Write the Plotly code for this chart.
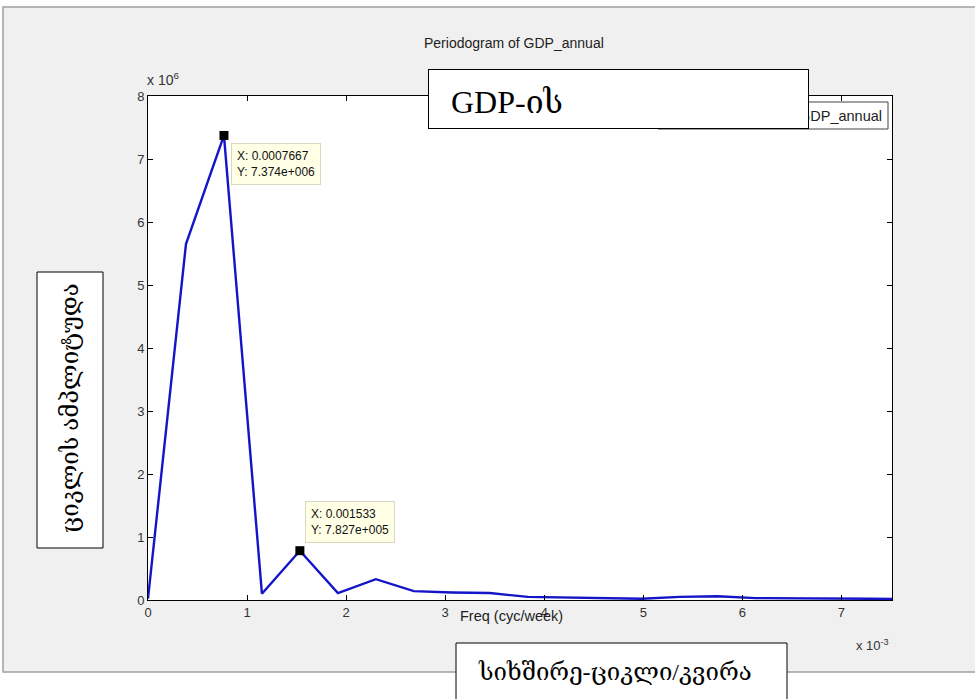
import plotly.graph_objects as go

# ---- data ----
freq = [0, 0.0003833, 0.0007667, 0.00115, 0.001533, 0.001917, 0.0023, 0.002683,
        0.003067, 0.00345, 0.003833, 0.004217, 0.0046, 0.004983, 0.005367,
        0.00575, 0.006133, 0.006517, 0.0069, 0.007283, 0.007667]
power = [0.02e6, 5.65e6, 7.374e6, 0.10e6, 0.7827e6, 0.11e6, 0.33e6, 0.14e6,
         0.12e6, 0.11e6, 0.05e6, 0.04e6, 0.02e6, 0.02e6, 0.05e6,
         0.06e6, 0.03e6, 0.03e6, 0.02e6, 0.02e6, 0.015e6]
tip_idx = [2, 4]
tip_text = ["X: 0.0007667<br>Y: 7.374e+006", "X: 0.001533<br>Y: 7.827e+005"]
x_ticks = [0, 0.001, 0.002, 0.003, 0.004, 0.005, 0.006, 0.007]
x_ticklabels = ["0", "1", "2", "3", "4", "5", "6", "7"]
y_ticks = [0, 1e6, 2e6, 3e6, 4e6, 5e6, 6e6, 7e6, 8e6]
y_ticklabels = ["0", "1", "2", "3", "4", "5", "6", "7", "8"]

W, H = 975, 699
L, R, T, B = 148, 892, 96, 600


def X(px):
    return (px - L) / (R - L)


def Y(py):
    return (B - py) / (B - T)


SANS = "Liberation Sans, Arial, sans-serif"
SERIF = "Liberation Serif, DejaVu Serif, serif"

fig = go.Figure()
fig.add_trace(go.Scatter(x=freq, y=power, mode="lines",
                         line=dict(color="#1414c8", width=2.4),
                         showlegend=False, hoverinfo="skip"))
fig.add_trace(go.Scatter(x=[freq[i] for i in tip_idx], y=[power[i] for i in tip_idx],
                         mode="markers",
                         marker=dict(symbol="square", size=9, color="black"),
                         showlegend=False, hoverinfo="skip"))

shapes = [
    # window background
    dict(type="rect", xref="paper", yref="paper", x0=X(3), x1=X(980), y0=Y(7), y1=Y(672),
         fillcolor="#f0f0f0", line=dict(color="#a0a0a0", width=1.5), layer="below"),
    dict(type="rect", xref="paper", yref="paper", x0=0, x1=1, y0=0, y1=1,
         fillcolor="white", line=dict(width=0), layer="below"),
    # legend box
    dict(type="rect", xref="paper", yref="paper", x0=X(658), x1=X(888), y0=Y(129), y1=Y(102),
         fillcolor="white", line=dict(color="#444", width=1), layer="above"),
    # left label box
    dict(type="rect", xref="paper", yref="paper", x0=X(37), x1=X(103), y0=Y(548), y1=Y(272),
         fillcolor="white", line=dict(color="black", width=1), layer="above"),
    # bottom label box
    dict(type="rect", xref="paper", yref="paper", x0=X(456), x1=X(787), y0=Y(712), y1=Y(643),
         fillcolor="white", line=dict(color="black", width=1), layer="above"),
]


def txt(text, px, py, size, family=SANS, color="#222", xa="center", **kw):
    return dict(text=text, xref="paper", yref="paper", x=X(px), y=Y(py),
                xanchor=xa, yanchor="middle", showarrow=False,
                font=dict(family=family, size=size, color=color), **kw)


annotations = [
    txt("Periodogram of GDP_annual", 514, 43, 14),
    txt("x 10<sup>6</sup>", 145, 79, 14, color="#333", xa="left"),
    txt("x 10<sup>-3</sup>", 891, 645, 13, color="#333", xa="right"),
    txt("Freq (cyc/week)", 511, 616, 14.5),
    txt("GDP_annual", 884, 116, 14.5, xa="right"),
    # GDP box covering the legend
    dict(text=" ", xref="paper", yref="paper", x=X(428), y=Y(69), xanchor="left", yanchor="top",
         width=379, height=58, bgcolor="white", bordercolor="black", borderwidth=1, borderpad=0,
         showarrow=False),
    txt("GDP-ის", 449, 102, 32, family=SERIF, color="black", xa="left"),
    txt("ციკლის ამპლიტუდა", 70, 408, 24, family=SERIF, color="black", textangle=-90),
    txt("სიხშირე-ციკლი/კვირა", 476, 672, 24, family=SERIF, color="black", xa="left"),
]

# data tips
annotations.append(dict(text=tip_text[0], x=freq[tip_idx[0]], y=power[tip_idx[0]],
                        xanchor="left", yanchor="top", xshift=7, yshift=-8, align="left",
                        showarrow=False, bgcolor="#ffffe6", bordercolor="#d8d8c0", borderwidth=1,
                        borderpad=5, font=dict(family=SANS, size=12, color="#111")))
annotations.append(dict(text=tip_text[1], x=freq[tip_idx[1]], y=power[tip_idx[1]],
                        xanchor="left", yanchor="bottom", xshift=5, yshift=8, align="left",
                        showarrow=False, bgcolor="#ffffe6", bordercolor="#d8d8c0", borderwidth=1,
                        borderpad=5, font=dict(family=SANS, size=12, color="#111")))

fig.update_layout(
    width=W, height=H,
    margin=dict(l=L, r=W - R, t=T, b=H - B, pad=0),
    paper_bgcolor="white", plot_bgcolor="white",
    shapes=shapes, annotations=annotations,
    xaxis=dict(range=[0, 0.00751], tickvals=x_ticks, ticktext=x_ticklabels,
               showgrid=False, zeroline=False, showline=True, linecolor="black",
               linewidth=1, mirror="ticks", ticks="inside", ticklen=5, tickcolor="black",
               tickfont=dict(family=SANS, size=13, color="#333")),
    yaxis=dict(range=[0, 8e6], tickvals=y_ticks, ticktext=y_ticklabels,
               showgrid=False, zeroline=False, showline=True, linecolor="black",
               linewidth=1, mirror="ticks", ticks="inside", ticklen=5, tickcolor="black",
               tickfont=dict(family=SANS, size=13, color="#333")),
)

fig.write_html("out.html", config={"displayModeBar": False},
               post_script="document.body.style.margin='0';")
